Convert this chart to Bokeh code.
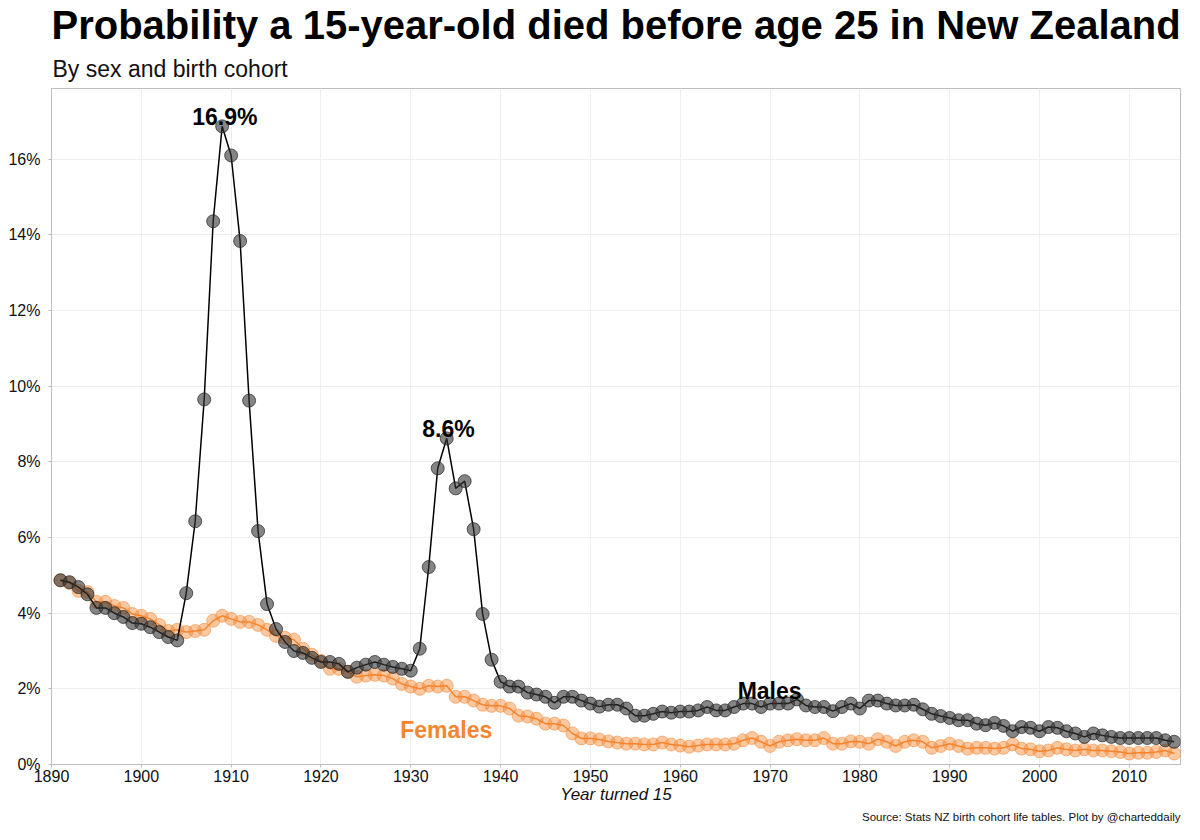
from bokeh.plotting import figure
from bokeh.models import ColumnDataSource, Label, Range1d, FixedTicker, PrintfTickFormatter, Title
from bokeh.embed import file_html
from bokeh.resources import INLINE

years = list(range(1891, 2016))

males = [
    4.87, 4.82, 4.69, 4.50, 4.14, 4.14, 4.00, 3.90, 3.74, 3.72,   # 1891-1900
    3.63, 3.50, 3.37, 3.28, 4.53, 6.43, 9.65, 14.36, 16.87, 16.10,  # 1901-1910
    13.84, 9.62, 6.17, 4.24, 3.58, 3.24, 3.00, 2.95, 2.82, 2.71,  # 1911-1920
    2.71, 2.66, 2.45, 2.56, 2.64, 2.71, 2.64, 2.58, 2.53, 2.48,   # 1921-1930
    3.06, 5.22, 7.83, 8.62, 7.30, 7.49, 6.22, 3.98, 2.77, 2.19,   # 1931-1940
    2.06, 2.06, 1.90, 1.85, 1.79, 1.63, 1.79, 1.79, 1.69, 1.61,   # 1941-1950
    1.53, 1.58, 1.58, 1.48, 1.29, 1.29, 1.34, 1.40, 1.37, 1.40,   # 1951-1960
    1.40, 1.43, 1.52, 1.43, 1.43, 1.52, 1.61, 1.61, 1.52, 1.61,   # 1961-1970
    1.61, 1.61, 1.72, 1.56, 1.52, 1.52, 1.41, 1.52, 1.61, 1.48,   # 1971-1980
    1.69, 1.69, 1.61, 1.56, 1.56, 1.58, 1.46, 1.34, 1.28, 1.23,   # 1981-1990
    1.17, 1.17, 1.08, 1.04, 1.10, 1.02, 0.88, 0.99, 0.97, 0.88,   # 1991-2000
    0.99, 0.97, 0.88, 0.82, 0.73, 0.82, 0.77, 0.73, 0.70, 0.70,   # 2001-2010
    0.70, 0.70, 0.70, 0.64, 0.60,                                 # 2011-2015
]

females = [
    4.87, 4.80, 4.59, 4.56, 4.30, 4.30, 4.19, 4.14, 3.98, 3.93,   # 1891-1900
    3.85, 3.69, 3.53, 3.56, 3.50, 3.53, 3.56, 3.80, 3.93, 3.85,   # 1901-1910
    3.77, 3.77, 3.69, 3.56, 3.40, 3.35, 3.30, 3.06, 2.90, 2.74,   # 1911-1920
    2.53, 2.53, 2.45, 2.32, 2.35, 2.37, 2.35, 2.27, 2.13, 2.06,   # 1921-1930
    2.00, 2.08, 2.06, 2.08, 1.79, 1.79, 1.69, 1.58, 1.55, 1.55,   # 1931-1940
    1.48, 1.29, 1.27, 1.21, 1.08, 1.08, 1.03, 0.82, 0.69, 0.69,   # 1941-1950
    0.66, 0.61, 0.58, 0.55, 0.55, 0.53, 0.53, 0.58, 0.53, 0.50,   # 1951-1960
    0.47, 0.50, 0.53, 0.53, 0.53, 0.55, 0.64, 0.70, 0.60, 0.49,   # 1961-1970
    0.60, 0.64, 0.67, 0.64, 0.64, 0.70, 0.55, 0.55, 0.61, 0.60,   # 1971-1980
    0.55, 0.67, 0.60, 0.49, 0.60, 0.64, 0.60, 0.44, 0.49, 0.55,   # 1981-1990
    0.49, 0.42, 0.44, 0.44, 0.42, 0.44, 0.53, 0.42, 0.40, 0.35,   # 1991-2000
    0.37, 0.44, 0.40, 0.37, 0.40, 0.37, 0.37, 0.35, 0.33, 0.29,   # 2001-2010
    0.31, 0.31, 0.33, 0.37, 0.29,                                 # 2011-2015
]

x_ticks = [1890, 1900, 1910, 1920, 1930, 1940, 1950, 1960, 1970, 1980, 1990, 2000, 2010]
y_ticks = [0, 2, 4, 6, 8, 10, 12, 14, 16]

title_text = "Probability a 15-year-old died before age 25 in New Zealand"
subtitle_text = "By sex and birth cohort"
source_text = "Source: Stats NZ birth cohort life tables. Plot by @charteddaily"
x_label = "Year turned 15"

FONT = "Liberation Sans"
ORANGE = "#F5852F"

src = ColumnDataSource(dict(year=years, male=males, female=females))

p = figure(width=1184, height=824, output_backend="svg", toolbar_location=None,
           x_range=Range1d(1890, 2015.7), y_range=Range1d(0, 17.87),
           min_border_left=51, min_border_right=4, min_border_top=0, min_border_bottom=0)
p.title = None

p.background_fill_color = "white"
p.border_fill_color = "white"
p.outline_line_color = "#BDBDBD"
p.outline_line_width = 1

# grids
p.xgrid.grid_line_color = "#EEEEEE"
p.ygrid.grid_line_color = "#EEEEEE"
p.xgrid.ticker = FixedTicker(ticks=x_ticks)
p.ygrid.ticker = FixedTicker(ticks=y_ticks)

# axes
p.xaxis.ticker = FixedTicker(ticks=x_ticks)
p.yaxis.ticker = FixedTicker(ticks=y_ticks)
p.yaxis.formatter = PrintfTickFormatter(format="%d%%")
for ax in (p.xaxis[0], p.yaxis[0]):
    ax.axis_line_color = "#BDBDBD"
    ax.major_tick_line_color = "#BDBDBD"
    ax.minor_tick_line_color = None
    ax.major_tick_in = 0
    ax.major_tick_out = 3
    ax.major_label_text_font = FONT
    ax.major_label_text_font_size = "16px"
    ax.major_label_text_color = "#111111"
p.xaxis.major_label_standoff = 2
p.yaxis.major_label_standoff = 8
p.xaxis.axis_label = x_label
p.xaxis.axis_label_text_font = FONT
p.xaxis.axis_label_text_font_size = "17px"
p.xaxis.axis_label_text_font_style = "italic"
p.xaxis.axis_label_text_color = "#111111"
p.xaxis.axis_label_standoff = 0

# titles (first added "above" sits nearest the frame)
p.add_layout(Title(text=subtitle_text, text_font=FONT, text_font_size="23px",
                   text_font_style="normal", text_color="#111111", standoff=14, offset=1), "above")
p.add_layout(Title(text=title_text, text_font=FONT, text_font_size="40px",
                   text_font_style="bold", text_color="black", standoff=0), "above")
p.add_layout(Title(text=source_text, text_font=FONT, text_font_size="11.5px",
                   text_font_style="normal", text_color="#111111", align="right",
                   standoff=4), "below")

# females
p.line("year", "female", source=src, line_color=ORANGE, line_width=1.5)
p.scatter("year", "female", source=src, size=13, fill_color=ORANGE, fill_alpha=0.45,
          line_color=ORANGE, line_alpha=0.55)

# males
p.line("year", "male", source=src, line_color="black", line_width=1.5)
p.scatter("year", "male", source=src, size=13, fill_color="#333333", fill_alpha=0.6,
          line_color="#222222", line_alpha=0.7)

# annotations
def lab(x, y, text, size, color="black"):
    p.add_layout(Label(x=x, y=y, text=text, text_font=FONT, text_font_size=size,
                       text_font_style="bold", text_color=color, text_align="center",
                       text_baseline="alphabetic"))

lab(1909.3, 17.12, "16.9%", "23px")
lab(1934.2, 8.88, "8.6%", "23px")
lab(1969.95, 1.95, "Males", "23px")
lab(1933.95, 0.90, "Females", "23px", color=ORANGE)

open("out.html", "w").write(file_html(p, INLINE))
